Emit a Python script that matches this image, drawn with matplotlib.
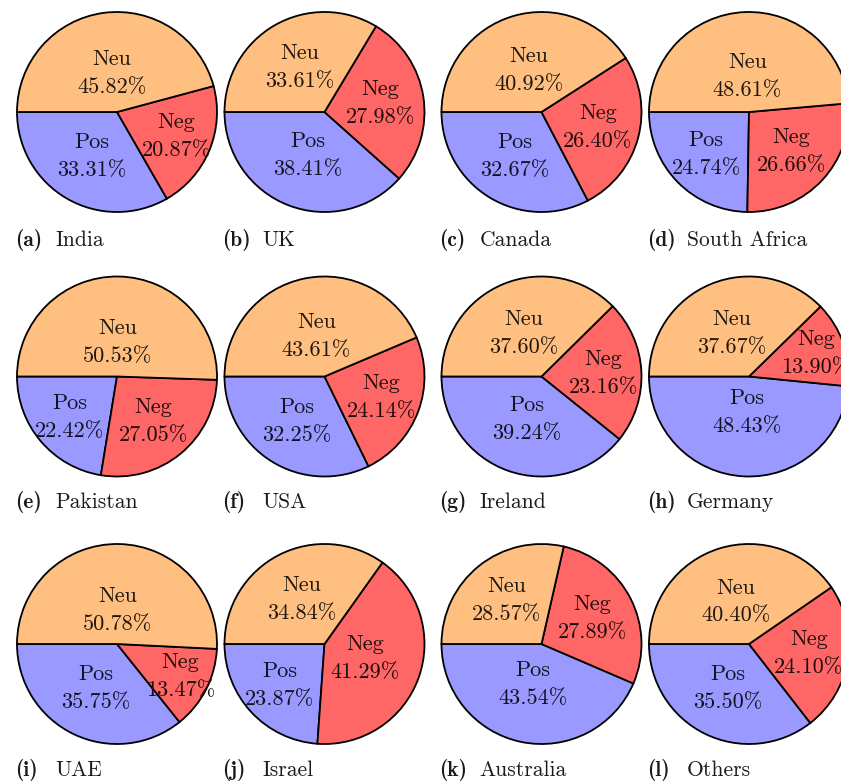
import matplotlib
matplotlib.use("Agg")
import matplotlib.pyplot as plt
import numpy as np
from matplotlib.colors import to_rgb

# ---- data ----
countries = ["India", "UK", "Canada", "South Africa",
             "Pakistan", "USA", "Ireland", "Germany",
             "UAE", "Israel", "Australia", "Others"]
letters = ["a", "b", "c", "d", "e", "f", "g", "h", "i", "j", "k", "l"]
pos = [33.31, 38.41, 32.67, 24.74, 22.42, 32.25, 39.24, 48.43, 35.75, 23.87, 43.54, 35.50]
neg = [20.87, 27.98, 26.40, 26.66, 27.05, 24.14, 23.16, 13.90, 13.47, 41.29, 27.89, 24.10]
neu = [45.82, 33.61, 40.92, 48.61, 50.53, 43.61, 37.60, 37.67, 50.78, 34.84, 28.57, 40.40]
slice_names = ["Pos", "Neg", "Neu"]
slice_colors = ["#9999FF", "#FF6666", "#FFBF80"]

# ---- layout (pixels) ----
W, H = 841, 783
col_cx = [117, 324.5, 541.5, 749]
row_cy = [112, 376.5, 644]
cap_base = [246, 508, 776]
R = 100.0

fig = plt.figure(figsize=(W / 100, H / 100), dpi=100)
fig.patch.set_facecolor("white")

def text_color(c, a=0.88):
    r, g, b = to_rgb(c)
    return ((1 - a) * r, (1 - a) * g, (1 - a) * b)

pad = 1.03
for k in range(12):
    row, col = divmod(k, 4)
    cx, cy = col_cx[col], row_cy[row]
    half = R * pad
    ax = fig.add_axes([(cx - half) / W, 1 - (cy + half) / H, 2 * half / W, 2 * half / H])
    ax.set_aspect("equal")
    ax.axis("off")
    vals = [pos[k], neg[k], neu[k]]
    wedges, _ = ax.pie(vals, colors=slice_colors, startangle=180, counterclock=True,
                       radius=1.0, center=(0, 0), frame=False,
                       wedgeprops=dict(edgecolor="black", linewidth=1.3, antialiased=True))
    ax.set_xlim(-pad, pad)
    ax.set_ylim(-pad, pad)
    for w, v, name, c in zip(wedges, vals, slice_names, slice_colors):
        mid = np.deg2rad((w.theta1 + w.theta2) / 2)
        frac = 0.85 - 0.0101 * v
        x, y = frac * np.cos(mid), frac * np.sin(mid)
        ax.text(x, y, f"{name}\n{v:.2f}%", ha="center", va="center",
                fontsize=16, family="cmr10", color=text_color(c),
                linespacing=1.55, clip_on=False)
    # caption
    x0 = cx - R - 2
    yb = 1 - cap_base[row] / H
    fig.text(x0 / W, yb, f"({letters[k]})", family="cmb10", fontsize=15.5,
             ha="left", va="baseline", color="#1a1a1a")
    fig.text((x0 + 40) / W, yb, countries[k], family="cmr10", fontsize=15.5,
             ha="left", va="baseline", color="#1a1a1a")

fig.savefig("out.png", dpi=100, facecolor="white")
